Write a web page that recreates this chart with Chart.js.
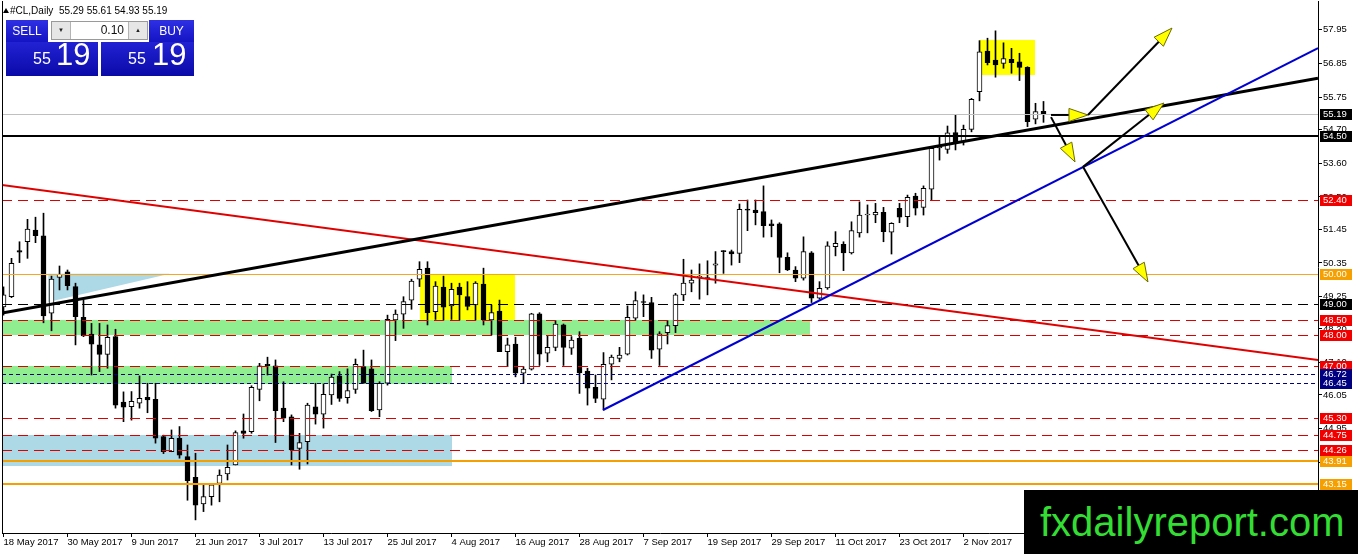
<!DOCTYPE html>
<html><head><meta charset="utf-8">
<script src="https://cdn.jsdelivr.net/npm/chart.js@4.4.1/dist/chart.umd.min.js"></script>
<style>
html,body{margin:0;padding:0;background:#fff;overflow:hidden}
#wrap{position:relative;width:1358px;height:554px;font-family:"Liberation Sans",Arial,sans-serif}
#c{position:absolute;left:0;top:0}
.abs{position:absolute}
#hdr{left:0;top:6px;height:12px;font-size:10px;line-height:10px;color:#000;white-space:pre}
#hdr .tri{position:absolute;left:3px;top:2px;width:0;height:0;border-left:3px solid transparent;border-right:3px solid transparent;border-bottom:5px solid #000}
#hdr .t{position:absolute;left:10px;top:0}
.btn{position:absolute;top:20px;height:22px;background:linear-gradient(#2f2fe4,#1414c4);color:#fff;font-size:12px;line-height:22px;text-align:center}
.sell{left:6px;width:42px}
.buy{left:149px;width:45px}
.lot{position:absolute;left:51px;top:21px;width:97px;height:19px;border:1px solid #9a9a9a;background:#fff;box-sizing:border-box}
.lot .dn,.lot .up{position:absolute;top:0;width:18px;height:17px;background:#e6e6e6;font-size:6px;line-height:17px;text-align:center;color:#222}
.lot .dn{left:0;border-right:1px solid #b4b4b4}
.lot .up{right:0;border-left:1px solid #b4b4b4}
.lot .v{position:absolute;right:23px;top:0;font-size:12px;line-height:17px;color:#111}
.big{position:absolute;top:42px;height:34px;background:linear-gradient(#2222d4,#0a0aa8);color:#fff}
.big.l{left:6px;width:92px}
.big.r{left:101px;width:93px}
.big .s{position:absolute;top:9px;font-size:16px;line-height:16px}
.big .b{position:absolute;top:-3px;font-size:31px;line-height:31px}
.big.l .s{left:27px}.big.l .b{left:50px}
.big.r .s{left:27px}.big.r .b{left:51px}
#wm{position:absolute;left:1024px;top:490px;width:334px;height:64px;background:#000;overflow:hidden}
#wm span{position:absolute;left:16px;top:12px;font-size:40px;line-height:40px;color:#33dd33;white-space:nowrap}
</style></head>
<body>
<div id="wrap">
<canvas id="c" width="1358" height="554"></canvas>
<div id="hdr" class="abs"><span class="tri"></span><span class="t" id="hdrText"></span></div>
<div class="btn sell">SELL</div>
<div class="lot"><div class="dn">&#9660;</div><div class="v">0.10</div><div class="up">&#9650;</div></div>
<div class="btn buy">BUY</div>
<div class="big l"><span class="s">55</span><span class="b">19</span></div>
<div class="big r"><span class="s">55</span><span class="b">19</span></div>
<div id="wm"><span>fxdailyreport.com</span></div>
</div>
<script>
// ---------------- DATA ----------------
const symbolName = '#CL,Daily';
const dateLabels = ['18 May 2017','30 May 2017','9 Jun 2017','21 Jun 2017','3 Jul 2017','13 Jul 2017','25 Jul 2017','4 Aug 2017','16 Aug 2017','28 Aug 2017','7 Sep 2017','19 Sep 2017','29 Sep 2017','11 Oct 2017','23 Oct 2017','2 Nov 2017'];
const dateTickBars = [0,8,16,24,32,40,48,56,64,72,80,88,96,104,112,120];

const opens = [48.92,49.25,50.75,51.04,51.42,51.23,48.71,49.88,50.06,49.58,
48.58,48.03,47.68,47.37,47.95,45.82,45.67,45.78,45.97,45.91,
44.69,44.20,44.64,44.04,43.37,42.50,42.74,43.17,43.48,43.77,
44.88,44.85,46.23,47.05,47.00,45.62,45.34,44.31,44.53,45.66,
45.42,46.05,46.67,45.96,46.23,46.97,46.90,45.56,46.43,48.49,
48.68,49.14,49.82,50.18,48.76,49.56,48.95,49.56,49.25,48.98,
49.66,48.49,48.78,47.46,47.71,46.76,46.89,48.69,47.41,47.60,
48.33,47.57,47.89,46.83,46.30,45.91,47.05,47.24,47.38,48.55,
49.09,49.06,47.54,48.08,48.31,49.31,49.69,49.88,49.86,50.28,
50.74,50.72,50.66,52.08,52.07,52.02,51.62,51.62,50.53,50.12,
49.85,50.68,49.20,49.54,50.88,50.96,50.68,51.33,51.91,51.91,
52.00,51.35,52.13,51.86,52.53,52.16,52.75,54.10,54.05,54.60,
54.30,54.70,55.93,57.25,56.96,56.85,56.98,56.90,56.72,55.03,55.29];
const highs = [49.57,50.50,51.04,51.77,51.84,51.97,49.92,50.25,50.12,49.69,
49.14,48.38,48.38,48.33,48.19,46.15,46.16,46.67,46.43,46.43,
44.74,44.91,45.02,44.42,44.15,43.12,43.17,43.61,44.42,44.88,
45.43,46.35,47.08,47.28,47.19,46.48,45.40,44.80,45.78,46.43,
46.41,46.73,46.81,46.90,47.22,47.51,47.19,46.48,48.65,48.82,
49.25,49.82,50.39,50.39,49.74,49.92,49.69,49.69,49.74,49.74,
50.18,48.98,49.14,47.90,47.93,46.97,48.71,48.73,47.97,48.47,
48.36,47.95,48.11,46.92,46.70,47.43,47.35,47.60,48.95,49.41,
49.31,49.23,48.11,48.47,49.36,50.47,50.12,50.32,50.42,50.72,
50.75,50.77,52.27,52.40,52.40,52.86,51.75,51.66,50.68,50.23,
51.20,50.72,49.74,51.04,51.37,51.04,51.69,52.34,52.24,52.29,
52.16,51.66,52.29,52.56,52.62,52.86,54.14,54.46,54.81,55.19,
54.84,55.71,57.59,57.67,57.91,57.52,57.34,57.18,56.74,55.55,55.61];
const lows = [48.65,49.22,50.36,50.50,51.01,48.40,48.14,49.47,49.47,47.68,
47.95,46.70,46.81,46.92,45.62,45.18,45.23,45.62,45.47,44.48,
44.14,44.20,43.99,42.62,41.98,42.25,42.46,42.57,43.28,43.77,
44.64,44.80,45.86,46.70,44.50,45.18,43.77,43.63,43.80,45.10,
44.97,45.74,45.84,45.78,46.10,46.43,45.51,45.34,46.37,47.82,
48.22,48.84,49.58,48.33,48.51,48.49,48.51,48.49,48.82,48.49,
48.33,48.00,47.46,46.97,46.64,46.43,46.86,47.01,47.13,47.49,
47.01,47.37,46.10,45.72,45.80,45.56,46.54,47.13,47.35,48.49,
48.60,47.24,47.01,47.71,48.08,49.12,49.41,49.17,49.31,49.69,
50.01,50.28,50.36,51.40,51.59,51.19,51.20,50.03,50.10,49.74,
49.79,49.06,49.17,49.49,50.58,50.10,50.64,51.19,51.33,51.66,
51.04,50.64,51.66,51.53,51.91,51.91,52.40,53.70,53.92,54.03,
54.19,54.62,55.63,56.80,56.40,56.69,56.53,56.29,54.79,54.88,54.93];
const closes = [49.31,50.34,50.70,51.45,51.24,48.62,49.82,49.98,49.61,48.60,
47.97,47.70,47.37,47.93,45.72,45.65,45.84,45.94,45.89,44.64,
44.20,44.64,44.09,43.26,42.46,42.74,43.12,43.44,43.69,44.82,
44.80,46.30,47.00,47.00,45.54,45.29,44.26,44.50,45.72,45.42,
46.07,46.63,45.94,46.19,47.05,46.43,45.54,46.43,48.51,48.68,
49.09,49.76,50.14,48.73,49.60,48.91,49.49,49.31,48.93,49.69,
48.49,48.73,47.46,47.68,46.76,46.89,48.69,47.38,47.60,48.36,
47.60,47.84,46.77,46.27,45.94,47.05,47.28,47.35,48.58,49.12,
49.06,47.51,48.04,48.31,49.31,49.69,49.79,49.90,49.84,50.32,
50.72,50.64,52.10,52.07,51.99,51.56,51.56,50.53,50.12,49.85,
50.72,49.20,49.52,50.91,50.99,50.68,51.40,51.91,51.93,52.00,
51.37,51.64,51.84,52.49,52.13,52.78,54.08,54.16,54.59,54.26,
54.70,55.68,57.23,56.87,56.80,57.01,56.87,56.72,54.95,55.28,55.19];

const yTicks = [57.95,56.85,55.75,54.70,53.60,52.50,51.45,50.35,49.25,48.20,47.10,46.05,44.95,43.85,42.80];

// horizontal levels (price) and their kind
const levelPrices = [55.19,54.50,52.40,50.00,49.00,48.50,48.00,47.00,46.72,46.45,45.30,44.75,44.26,43.91,43.15];
const levelKinds  = ['bid','black','red','orange','blackdash','red','red','red','navy','navy','red','red','red','orangeThick','orangeThick'];

// zones (price from / to, last bar covered)
const bandTop    = [48.50, 47.00, 44.75];
const bandBottom = [48.00, 46.40, 43.75];
const bandEndBar = [100.8, 56.0, 56.0];
const bandKinds  = ['green','green','blue'];

// triangle zone (bar, price)
const triBars   = [5.6, 20.8, 5.6];
const triPrices = [50.00, 50.00, 49.08];

// yellow rectangles
const boxBar0 = [52.0, 122.0];
const boxBar1 = [63.9, 128.9];
const boxTop  = [50.00, 57.61];
const boxBot  = [48.49, 56.47];

// trend lines
const trendBar0   = [-0.19, -0.19, 74.94];
const trendPrice0 = [52.89, 48.72, 45.56];
const trendBar1   = [164.31, 164.31, 164.31];
const trendPrice1 = [47.19, 56.37, 57.35];
const trendKinds  = ['red','black','blue'];

// arrows
const arrowBar0   = [130.94, 135.56, 130.94, 134.94, 134.94];
const arrowPrice0 = [55.17, 55.17, 55.10, 53.48, 53.48];
const arrowBar1   = [135.56, 146.06, 133.94, 145.06, 143.06];
const arrowPrice1 = [55.17, 58.00, 53.64, 55.56, 49.73];

// ---------------- STYLES ----------------
const FONT = '"Liberation Sans", Arial, sans-serif';
const LEVEL_STYLE = {
  bid:{color:'#c0c0c0',w:1,dash:[],bg:'#000',fg:'#fff'},
  black:{color:'#000',w:2,dash:[],bg:'#000',fg:'#fff'},
  red:{color:'#dd0000',w:1,dash:[10,6],bg:'#f20000',fg:'#fff'},
  orange:{color:'#f5a623',w:1,dash:[],bg:'#f5a000',fg:'#fff'},
  blackdash:{color:'#000',w:1,dash:[10,6],bg:'#000',fg:'#fff'},
  navy:{color:'#000080',w:1,dash:[4,3],bg:'#000080',fg:'#fff'},
  orangeThick:{color:'#f5a000',w:2,dash:[],bg:'#f5a000',fg:'#fff'}
};
const BAND_STYLE = {green:'#90ee90', blue:'#add8e6'};
const TREND_STYLE = {red:{c:'#e00000',w:2}, black:{c:'#000',w:3}, blue:{c:'#0000d0',w:2}};

const last = closes.length-1;
document.getElementById('hdrText').textContent =
  symbolName + '  ' + [opens[last],highs[last],lows[last],closes[last]].map(v=>v.toFixed(2)).join(' ');

const idx = opens.map((_,i)=>i);

const mt4 = {
  id:'mt4',
  beforeDatasetsDraw(c){
    const {ctx, chartArea:a} = c, X=c.scales.x, Y=c.scales.y;
    ctx.save();
    ctx.beginPath(); ctx.rect(a.left,a.top,a.right-a.left,a.bottom-a.top); ctx.clip();
    for(let i=0;i<bandTop.length;i++){
      const x1=Math.round(X.getPixelForValue(bandEndBar[i]));
      const y0=Math.round(Y.getPixelForValue(bandTop[i])), y1=Math.round(Y.getPixelForValue(bandBottom[i]));
      ctx.fillStyle=BAND_STYLE[bandKinds[i]];
      ctx.fillRect(a.left,y0,x1-a.left,y1-y0);
    }
    ctx.fillStyle=BAND_STYLE.blue;
    ctx.beginPath();
    triBars.forEach((b,i)=>{const px=X.getPixelForValue(b), py=Y.getPixelForValue(triPrices[i]); i?ctx.lineTo(px,py):ctx.moveTo(px,py);});
    ctx.closePath(); ctx.fill();
    ctx.fillStyle='#ffff00';
    for(let i=0;i<boxTop.length;i++){
      const x0=Math.round(X.getPixelForValue(boxBar0[i])), x1=Math.round(X.getPixelForValue(boxBar1[i]));
      const y0=Math.round(Y.getPixelForValue(boxTop[i])), y1=Math.round(Y.getPixelForValue(boxBot[i]));
      ctx.fillRect(x0,y0,x1-x0,y1-y0);
    }
    ctx.restore();
  },
  afterDatasetsDraw(c){
    const {ctx, chartArea:a} = c, X=c.scales.x, Y=c.scales.y;
    ctx.save();
    ctx.beginPath(); ctx.rect(a.left,a.top,a.right-a.left,a.bottom-a.top); ctx.clip();
    levelPrices.forEach((p,i)=>{
      const st=LEVEL_STYLE[levelKinds[i]];
      let yy=Math.round(Y.getPixelForValue(p)); if(st.w%2===1) yy+=0.5;
      ctx.strokeStyle=st.color; ctx.lineWidth=st.w; ctx.setLineDash(st.dash);
      ctx.beginPath(); ctx.moveTo(a.left,yy); ctx.lineTo(a.right,yy); ctx.stroke();
    });
    ctx.setLineDash([]);
    trendBar0.forEach((b,i)=>{
      const st=TREND_STYLE[trendKinds[i]];
      ctx.strokeStyle=st.c; ctx.lineWidth=st.w;
      ctx.beginPath();
      ctx.moveTo(X.getPixelForValue(b),Y.getPixelForValue(trendPrice0[i]));
      ctx.lineTo(X.getPixelForValue(trendBar1[i]),Y.getPixelForValue(trendPrice1[i]));
      ctx.stroke();
    });
    arrowBar0.forEach((b,i)=>{
      const x0=X.getPixelForValue(b), y0=Y.getPixelForValue(arrowPrice0[i]);
      const x1=X.getPixelForValue(arrowBar1[i]), y1=Y.getPixelForValue(arrowPrice1[i]);
      const L=Math.hypot(x1-x0,y1-y0), ux=(x1-x0)/L, uy=(y1-y0)/L;
      const hl=19, hw=6.5;
      const bx=x1-ux*hl, by=y1-uy*hl;
      ctx.strokeStyle='#000'; ctx.lineWidth=2;
      ctx.beginPath(); ctx.moveTo(x0,y0); ctx.lineTo(bx,by); ctx.stroke();
      ctx.fillStyle='#ffff00'; ctx.strokeStyle='#6b6b00'; ctx.lineWidth=1;
      ctx.beginPath(); ctx.moveTo(x1,y1); ctx.lineTo(bx-uy*hw,by+ux*hw); ctx.lineTo(bx+uy*hw,by-ux*hw); ctx.closePath();
      ctx.fill(); ctx.stroke();
    });
    ctx.restore();
  },
  afterDraw(c){
    const {ctx, chartArea:a} = c, Y=c.scales.y;
    ctx.save();
    ctx.fillStyle='#000';
    ctx.fillRect(a.left,a.top,1,a.bottom-a.top);
    ctx.font='9.5px '+FONT; ctx.textBaseline='middle'; ctx.textAlign='left';
    levelPrices.forEach((p,i)=>{
      const st=LEVEL_STYLE[levelKinds[i]];
      const yy=Math.round(Y.getPixelForValue(p));
      ctx.fillStyle=st.bg; ctx.fillRect(Y.left+2,yy-5,32,11);
      ctx.fillStyle=st.fg; ctx.fillText(p.toFixed(2),Y.left+5,yy+0.5);
    });
    ctx.restore();
  }
};

new Chart(document.getElementById('c'),{
  type:'bar',
  data:{datasets:[
    {label:'body', data:idx.map(i=>({x:i,y:[opens[i],closes[i]]})),
     backgroundColor:idx.map(i=>closes[i]>=opens[i]?'#ffffff':'#000000'),
     borderColor:'#000', borderWidth:1, borderSkipped:false, barThickness:5, minBarLength:1, grouped:false, order:1},
    {label:'wick', data:idx.map(i=>({x:i,y:[lows[i],highs[i]]})),
     backgroundColor:'#000', borderWidth:0, barThickness:1, grouped:false, order:2}
  ]},
  options:{
    responsive:false, animation:false, devicePixelRatio:1,
    layout:{padding:{left:2,top:1,right:0,bottom:0}},
    plugins:{legend:{display:false},tooltip:{enabled:false}},
    scales:{
      x:{type:'linear', min:-0.1875, max:164.3125, offset:false,
         afterBuildTicks:s=>{s.ticks=dateTickBars.map(v=>({value:v}));},
         afterFit:s=>{s.height=21; s.paddingLeft=0; s.paddingRight=0;},
         ticks:{autoSkip:false, maxRotation:0, minRotation:0, align:'start', padding:0, color:'#000',
                font:{family:FONT,size:9.5}, callback:(v,i)=>dateLabels[i]},
         grid:{drawOnChartArea:false, drawTicks:true, tickLength:4, color:'#000', offset:false},
         border:{color:'#000',width:1}},
      y:{type:'linear', position:'right', min:41.553, max:58.882,
         afterBuildTicks:s=>{s.ticks=yTicks.map(v=>({value:v}));},
         afterFit:s=>{s.width=40; s.paddingTop=0; s.paddingBottom=0;},
         ticks:{padding:1, color:'#000', font:{family:FONT,size:9.5}, callback:v=>v.toFixed(2)},
         grid:{drawOnChartArea:false, drawTicks:true, tickLength:4, color:'#000'},
         border:{color:'#000',width:1}}
    }
  },
  plugins:[mt4]
});
</script>
</body></html>
